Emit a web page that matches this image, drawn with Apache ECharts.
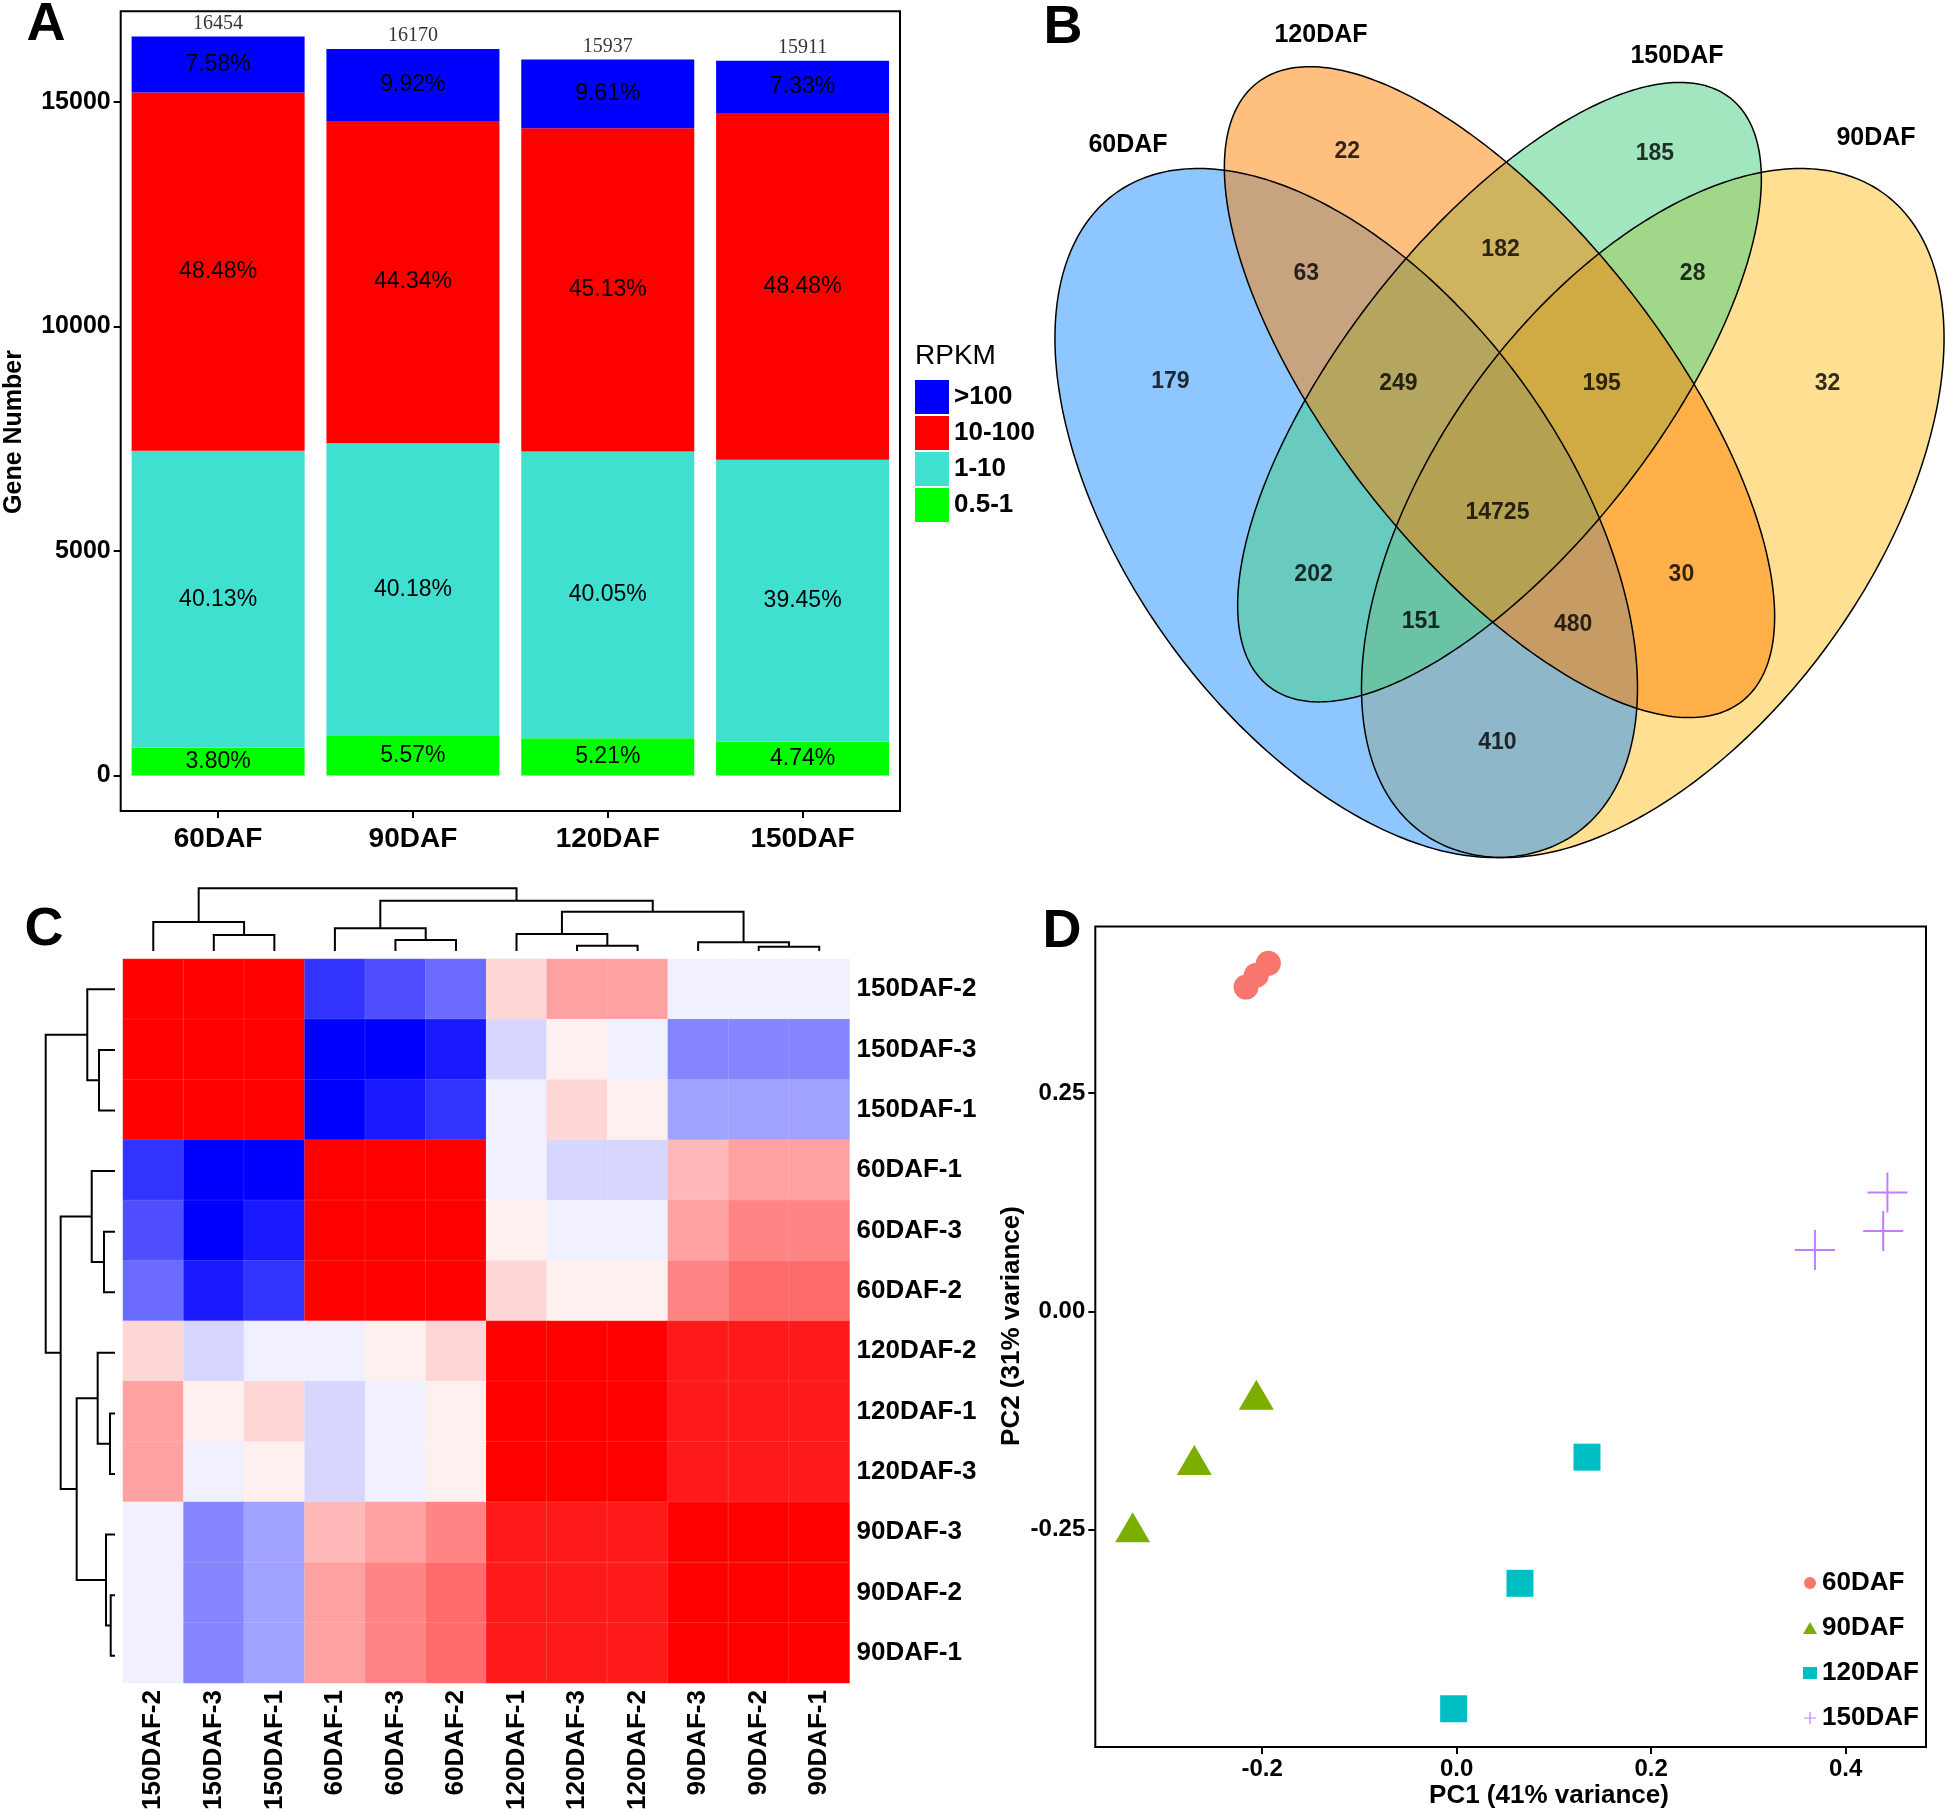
<!DOCTYPE html>
<html><head><meta charset="utf-8">
<script src="https://cdn.jsdelivr.net/npm/echarts@6/dist/echarts.min.js"></script>
<style>html,body{margin:0;padding:0;background:#fff}#c{width:1946px;height:1813px}</style>
</head><body><div id="c"></div>
<script>
// ---------- Panel A data ----------
const stages = ['60DAF', '90DAF', '120DAF', '150DAF'];
const totals = [16454, 16170, 15937, 15911];
const rpkmClasses = ['0.5-1', '1-10', '10-100', '>100'];
const pct_05_1 = [3.80, 5.57, 5.21, 4.74];
const pct_1_10 = [40.13, 40.18, 40.05, 39.45];
const pct_10_100 = [48.48, 44.34, 45.13, 48.48];
const pct_gt100 = [7.58, 9.92, 9.61, 7.33];
const geneTicks = [0, 5000, 10000, 15000];

// ---------- Panel B data ----------
const vennSets = ['60DAF', '120DAF', '150DAF', '90DAF'];
const vennRegions = ['60', '120', '150', '90', '60&120', '120&150', '150&90', '60&150', '120&90', '60&90',
  '60&120&150', '120&150&90', '60&150&90', '60&120&90', '60&120&150&90'];
const vennCounts = [179, 22, 185, 32, 63, 182, 28, 202, 30, 410, 249, 195, 151, 480, 14725];

// ---------- Panel C data ----------
const colLabels = ['150DAF-2', '150DAF-3', '150DAF-1', '60DAF-1', '60DAF-3', '60DAF-2',
  '120DAF-1', '120DAF-3', '120DAF-2', '90DAF-3', '90DAF-2', '90DAF-1'];
const rowLabels = ['150DAF-2', '150DAF-3', '150DAF-1', '60DAF-1', '60DAF-3', '60DAF-2',
  '120DAF-2', '120DAF-1', '120DAF-3', '90DAF-3', '90DAF-2', '90DAF-1'];
const heatRow_150DAF_2 = [1, 1, 1, -0.80, -0.69, -0.58, 0.16, 0.37, 0.37, -0.06, -0.06, -0.06];
const heatRow_150DAF_3 = [1, 1, 1, -1, -1, -0.90, -0.16, 0.06, -0.06, -0.48, -0.48, -0.48];
const heatRow_150DAF_1 = [1, 1, 1, -1, -0.90, -0.80, -0.06, 0.16, 0.06, -0.37, -0.37, -0.37];
const heatRow_60DAF_1 = [-0.80, -1, -1, 1, 1, 1, -0.06, -0.16, -0.16, 0.28, 0.37, 0.37];
const heatRow_60DAF_3 = [-0.69, -1, -0.90, 1, 1, 1, 0.06, -0.06, -0.06, 0.37, 0.48, 0.48];
const heatRow_60DAF_2 = [-0.58, -0.90, -0.80, 1, 1, 1, 0.16, 0.06, 0.06, 0.48, 0.58, 0.58];
const heatRow_120DAF_2 = [0.16, -0.16, -0.06, -0.06, 0.06, 0.16, 1, 1, 1, 0.90, 0.90, 0.90];
const heatRow_120DAF_1 = [0.37, 0.06, 0.16, -0.16, -0.06, 0.06, 1, 1, 1, 0.90, 0.90, 0.90];
const heatRow_120DAF_3 = [0.37, -0.06, 0.06, -0.16, -0.06, 0.06, 1, 1, 1, 0.90, 0.90, 0.90];
const heatRow_90DAF_3 = [-0.06, -0.48, -0.37, 0.28, 0.37, 0.48, 0.90, 0.90, 0.90, 1, 1, 1];
const heatRow_90DAF_2 = [-0.06, -0.48, -0.37, 0.37, 0.48, 0.58, 0.90, 0.90, 0.90, 1, 1, 1];
const heatRow_90DAF_1 = [-0.06, -0.48, -0.37, 0.37, 0.48, 0.58, 0.90, 0.90, 0.90, 1, 1, 1];
// dendrogram merges: [left, right, height]; 'mK' refers to the K-th merge
const colMerges = [
  ['150DAF-3', '150DAF-1', 0.255], ['150DAF-2', 'm0', 0.463],
  ['60DAF-3', '60DAF-2', 0.175], ['60DAF-1', 'm2', 0.362],
  ['120DAF-3', '120DAF-2', 0.085], ['120DAF-1', 'm4', 0.271],
  ['90DAF-2', '90DAF-1', 0.069], ['90DAF-3', 'm6', 0.139],
  ['m5', 'm7', 0.627], ['m3', 'm8', 0.802], ['m1', 'm9', 1.0]];
const rowMerges = [
  ['150DAF-3', '150DAF-1', 0.231], ['150DAF-2', 'm0', 0.400],
  ['60DAF-3', '60DAF-2', 0.159], ['60DAF-1', 'm2', 0.336],
  ['120DAF-1', '120DAF-3', 0.072], ['120DAF-2', 'm4', 0.250],
  ['90DAF-2', '90DAF-1', 0.062], ['90DAF-3', 'm6', 0.130],
  ['m5', 'm7', 0.553], ['m3', 'm8', 0.784], ['m1', 'm9', 1.0]];

// ---------- Panel D data ----------
const pcaGroups = ['60DAF', '90DAF', '120DAF', '150DAF'];
const pc1_60DAF = [-0.2166, -0.2060, -0.1936];
const pc2_60DAF = [0.3715, 0.3851, 0.3987];
const pc1_90DAF = [-0.2060, -0.2698, -0.3332];
const pc2_90DAF = [-0.0954, -0.1703, -0.2474];
const pc1_120DAF = [0.1340, 0.0651, -0.0031];
const pc2_120DAF = [-0.1670, -0.3115, -0.4552];
const pc1_150DAF = [0.3684, 0.4386, 0.4429];
const pc2_150DAF = [0.0703, 0.0921, 0.1363];
const pc1Ticks = [-0.2, 0, 0.2, 0.4];
const pc2Ticks = [-0.25, 0, 0.25];

// ---------- layout / style ----------
const FF = "'Liberation Sans', Arial, Helvetica, sans-serif";
const FS = "'Liberation Serif', 'Times New Roman', serif";
const vennEllipses = {
  '90DAF':  {cx: 0.65, cy: 0.47, a: 0.35,  b: 0.20,  ang: 45,  color: 'rgba(255,193,37,0.5)'},
  '60DAF':  {cx: 0.35, cy: 0.47, a: 0.35,  b: 0.20,  ang: -45, color: 'rgba(30,144,255,0.5)'},
  '150DAF': {cx: 0.50, cy: 0.57, a: 0.333, b: 0.143, ang: 45,  color: 'rgba(67,205,128,0.5)'},
  '120DAF': {cx: 0.50, cy: 0.57, a: 0.35,  b: 0.15,  ang: -45, color: 'rgba(255,127,0,0.5)'}
};
const vennDrawOrder = ['90DAF', '60DAF', '150DAF', '120DAF'];
const vennLabelPos = [[0.178, 0.579], [0.351, 0.769], [0.652, 0.767], [0.821, 0.577],
  [0.311, 0.668], [0.501, 0.688], [0.689, 0.668], [0.318, 0.419], [0.678, 0.419], [0.498, 0.280],
  [0.401, 0.577], [0.600, 0.577], [0.423, 0.380], [0.572, 0.378], [0.498, 0.470]];

function ellipsePoints(e, api) {
  const pts = [];
  const t = e.ang * Math.PI / 180;
  for (let k = 0; k < 360; k++) {
    const th = k * Math.PI / 180;
    const ux = e.a * Math.cos(th), uy = e.b * Math.sin(th);
    pts.push(api.coord([e.cx + ux * Math.cos(t) - uy * Math.sin(t), e.cy + ux * Math.sin(t) + uy * Math.cos(t)]));
  }
  return pts;
}
function dendroSegments(leaves, merges) {
  const pos = {};
  leaves.forEach((n, i) => { pos[n] = {x: i, h: 0}; });
  const segs = [];
  merges.forEach((m, k) => {
    const L = pos[m[0]], R = pos[m[1]];
    segs.push([L.x, L.h, R.x, R.h, m[2]]);
    pos['m' + k] = {x: (L.x + R.x) / 2, h: m[2]};
  });
  return segs;
}

const pctBySeries = [pct_05_1, pct_1_10, pct_10_100, pct_gt100];
const rpkmColors = ['#00FF00', '#40E0D0', '#FF0000', '#0000FF'];
const heatRows = [heatRow_150DAF_2, heatRow_150DAF_3, heatRow_150DAF_1, heatRow_60DAF_1, heatRow_60DAF_3,
  heatRow_60DAF_2, heatRow_120DAF_2, heatRow_120DAF_1, heatRow_120DAF_3, heatRow_90DAF_3, heatRow_90DAF_2, heatRow_90DAF_1];
const heatData = [];
heatRows.forEach((row, r) => row.forEach((v, c) => heatData.push([c, r, v])));

const pcaX = [pc1_60DAF, pc1_90DAF, pc1_120DAF, pc1_150DAF];
const pcaY = [pc2_60DAF, pc2_90DAF, pc2_120DAF, pc2_150DAF];
const pcaColors = ['#F8766D', '#7CAE00', '#00BFC4', '#C77CFF'];
const plusPath = 'path://M19,0H21V19H40V21H21V40H19V21H0V19H19Z';
const pcaSymbols = ['circle', 'triangle', 'rect', plusPath];
const pcaSizes = [25, [35, 30], 27, 40];

const series = [];
// Panel A stacked bars
rpkmClasses.forEach((cls, s) => {
  series.push({
    type: 'bar', name: cls, xAxisIndex: 0, yAxisIndex: 0, stack: 'rpkm', barWidth: 173,
    itemStyle: {color: rpkmColors[s]},
    data: stages.map((st, i) => totals[i] * pctBySeries[s][i] / 100),
    label: {show: true, position: 'inside', color: '#000', fontFamily: FF, fontSize: 23,
      formatter: p => pctBySeries[s][p.dataIndex].toFixed(2) + '%'},
    emphasis: {disabled: true}, silent: true
  });
});
series.push({
  type: 'scatter', xAxisIndex: 0, yAxisIndex: 0, symbolSize: 0, silent: true, z: 5,
  data: totals.slice(),
  label: {show: true, position: 'top', distance: 3, color: '#000', fontFamily: FS, fontSize: 20,
    formatter: p => String(totals[p.dataIndex])}
});
// Panel B Venn
series.push({
  type: 'custom', xAxisIndex: 1, yAxisIndex: 1, silent: true, clip: false, z: 2,
  data: vennDrawOrder.map(n => ({name: n, value: [0.5, 0.5]})),
  renderItem: (params, api) => ({type: 'polygon', shape: {points: ellipsePoints(vennEllipses[vennDrawOrder[params.dataIndex]], api)},
    style: {fill: vennEllipses[vennDrawOrder[params.dataIndex]].color, stroke: null}})
});
series.push({
  type: 'custom', xAxisIndex: 1, yAxisIndex: 1, silent: true, clip: false, z: 3,
  data: vennDrawOrder.map(n => ({name: n, value: [0.5, 0.5]})),
  renderItem: (params, api) => ({type: 'polygon', shape: {points: ellipsePoints(vennEllipses[vennDrawOrder[params.dataIndex]], api)},
    style: {fill: null, stroke: '#000', lineWidth: 1.5}})
});
series.push({
  type: 'scatter', xAxisIndex: 1, yAxisIndex: 1, symbolSize: 1, silent: true, z: 4,
  itemStyle: {color: 'transparent'},
  data: vennCounts.map((c, i) => [vennLabelPos[i][0], vennLabelPos[i][1], c]),
  label: {show: true, position: 'inside', color: '#000', fontFamily: FF, fontSize: 23, fontWeight: 'bold',
    formatter: p => String(p.value[2])}
});
// Panel C heatmap
const heatSeriesIndex = series.length;
series.push({
  type: 'heatmap', xAxisIndex: 2, yAxisIndex: 2, data: heatData, silent: true,
  itemStyle: {borderColor: 'rgba(255,255,255,0.12)', borderWidth: 1}
});
series.push({
  type: 'custom', xAxisIndex: 3, yAxisIndex: 3, silent: true, clip: false,
  data: dendroSegments(colLabels, colMerges),
  renderItem: (params, api) => {
    const xl = api.value(0), hl = api.value(1), xr = api.value(2), hr = api.value(3), h = api.value(4);
    return {type: 'polyline', shape: {points: [api.coord([xl, hl]), api.coord([xl, h]), api.coord([xr, h]), api.coord([xr, hr])]},
      style: {stroke: '#000', lineWidth: 2, fill: null}};
  }
});
series.push({
  type: 'custom', xAxisIndex: 4, yAxisIndex: 4, silent: true, clip: false,
  data: dendroSegments(rowLabels, rowMerges),
  renderItem: (params, api) => {
    const yl = api.value(0), hl = api.value(1), yr = api.value(2), hr = api.value(3), h = api.value(4);
    return {type: 'polyline', shape: {points: [api.coord([hl, yl]), api.coord([h, yl]), api.coord([h, yr]), api.coord([hr, yr])]},
      style: {stroke: '#000', lineWidth: 2, fill: null}};
  }
});
// Panel D PCA
pcaGroups.forEach((g, s) => {
  series.push({
    type: 'scatter', name: g, xAxisIndex: 5, yAxisIndex: 5, symbol: pcaSymbols[s], symbolSize: pcaSizes[s],
    itemStyle: {color: pcaColors[s], opacity: 1}, silent: true,
    data: pcaX[s].map((x, i) => [x, pcaY[s][i]])
  });
});

const tickStyle = {show: true, length: 7, lineStyle: {color: '#000', width: 2}};
const noLine = {show: false, onZero: false};
const hidden = {show: false};
const option = {
  animation: false,
  backgroundColor: '#fff',
  grid: [
    {left: 120.7, top: 11.2, width: 779.3, height: 799.8, show: true, borderColor: '#000', borderWidth: 2},
    {left: 1055, top: 67, width: 889, height: 790.5},
    {left: 123, top: 959, width: 726.5, height: 727},
    {left: 123, top: 888.3, width: 726.5, height: 62.7},
    {left: 45.7, top: 959, width: 69.3, height: 727},
    {left: 1095.3, top: 926.4, width: 830.7, height: 820.6, show: true, borderColor: '#000', borderWidth: 2}
  ],
  xAxis: [
    {gridIndex: 0, type: 'category', data: stages, axisLine: noLine, splitLine: hidden,
      axisTick: Object.assign({alignWithLabel: true}, tickStyle),
      axisLabel: {color: '#000', fontFamily: FF, fontSize: 28, fontWeight: 'bold', margin: 14}},
    {gridIndex: 1, type: 'value', min: 0.065, max: 0.935, show: false},
    {gridIndex: 2, type: 'category', data: colLabels, axisLine: hidden, axisTick: hidden, splitLine: hidden,
      axisLabel: {interval: 0, rotate: 90, margin: 7, color: '#000', fontFamily: FF, fontSize: 26, fontWeight: 'bold'}},
    {gridIndex: 3, type: 'value', min: -0.5, max: 11.5, show: false},
    {gridIndex: 4, type: 'value', min: 0, max: 1, inverse: true, show: false},
    {gridIndex: 5, type: 'value', min: -0.3716, max: 0.4826, axisLine: noLine, splitLine: hidden,
      axisTick: Object.assign({customValues: pc1Ticks}, tickStyle),
      axisLabel: {customValues: pc1Ticks, formatter: v => v.toFixed(1), color: '#000',
        fontFamily: FF, fontSize: 24, fontWeight: 'bold', margin: 10}}
  ],
  yAxis: [
    {gridIndex: 0, type: 'value', min: -788, max: 17013, axisLine: noLine, splitLine: hidden,
      axisTick: Object.assign({customValues: geneTicks}, tickStyle),
      axisLabel: {customValues: geneTicks, formatter: v => String(v), color: '#000', fontFamily: FF, fontSize: 25,
        fontWeight: 'bold', margin: 10}},
    {gridIndex: 1, type: 'value', min: 0.185, max: 0.839, show: false},
    {gridIndex: 2, type: 'category', data: rowLabels, inverse: true, position: 'right', axisLine: hidden, axisTick: hidden,
      splitLine: hidden,
      axisLabel: {interval: 0, margin: 7, color: '#000', fontFamily: FF, fontSize: 26, fontWeight: 'bold'}},
    {gridIndex: 3, type: 'value', min: 0, max: 1, show: false},
    {gridIndex: 4, type: 'value', min: -0.5, max: 11.5, inverse: true, show: false},
    {gridIndex: 5, type: 'value', min: -0.499, max: 0.441, axisLine: noLine, splitLine: hidden,
      axisTick: Object.assign({customValues: pc2Ticks}, tickStyle),
      axisLabel: {customValues: pc2Ticks, formatter: v => v.toFixed(2), color: '#000',
        fontFamily: FF, fontSize: 24, fontWeight: 'bold', margin: 10}}
  ],
  visualMap: {type: 'continuous', show: false, seriesIndex: heatSeriesIndex, dimension: 2, min: -1, max: 1,
    inRange: {color: ['#0000FF', '#FFFFFF', '#FF0000']}},
  legend: [
    {data: ['>100', '10-100', '1-10', '0.5-1'], orient: 'vertical', left: 915, top: 380, padding: 0,
      itemWidth: 34, itemHeight: 34, itemGap: 2, icon: 'rect', selectedMode: false,
      textStyle: {color: '#000', fontFamily: FF, fontSize: 26, fontWeight: 'bold'}},
    {data: [{name: '60DAF', icon: 'circle'}, {name: '90DAF', icon: 'triangle'}, {name: '120DAF', icon: 'rect'},
      {name: '150DAF', icon: 'path://M6.3,0H7.7V6.3H14V7.7H7.7V14H6.3V7.7H0V6.3H6.3Z'}],
      orient: 'vertical', left: 1803, top: 1568, padding: 0, itemWidth: 14, itemHeight: 12, itemGap: 15,
      selectedMode: false,
      textStyle: {color: '#000', fontFamily: FF, fontSize: 26, fontWeight: 'bold', lineHeight: 30}}
  ],
  graphic: [
    {type: 'text', x: 46, y: 25, style: {text: 'A', fontFamily: FF, fontSize: 54, fontWeight: 'bold', fill: '#000', align: 'center', verticalAlign: 'middle'}},
    {type: 'text', x: 1063, y: 28, style: {text: 'B', fontFamily: FF, fontSize: 54, fontWeight: 'bold', fill: '#000', align: 'center', verticalAlign: 'middle'}},
    {type: 'text', x: 44, y: 930, style: {text: 'C', fontFamily: FF, fontSize: 54, fontWeight: 'bold', fill: '#000', align: 'center', verticalAlign: 'middle'}},
    {type: 'text', x: 1062, y: 932, style: {text: 'D', fontFamily: FF, fontSize: 54, fontWeight: 'bold', fill: '#000', align: 'center', verticalAlign: 'middle'}},
    {type: 'text', x: 14, y: 432, rotation: Math.PI / 2, style: {text: 'Gene Number', fontFamily: FF, fontSize: 25, fontWeight: 'bold', fill: '#000', align: 'center', verticalAlign: 'middle'}},
    {type: 'text', x: 915, y: 356, style: {text: 'RPKM', fontFamily: FF, fontSize: 28, fill: '#000', align: 'left', verticalAlign: 'middle'}},
    {type: 'text', x: 1128, y: 145, style: {text: vennSets[0], fontFamily: FF, fontSize: 25, fontWeight: 'bold', fill: '#000', align: 'center', verticalAlign: 'middle'}},
    {type: 'text', x: 1321, y: 35, style: {text: vennSets[1], fontFamily: FF, fontSize: 25, fontWeight: 'bold', fill: '#000', align: 'center', verticalAlign: 'middle'}},
    {type: 'text', x: 1677, y: 56, style: {text: vennSets[2], fontFamily: FF, fontSize: 25, fontWeight: 'bold', fill: '#000', align: 'center', verticalAlign: 'middle'}},
    {type: 'text', x: 1876, y: 138, style: {text: vennSets[3], fontFamily: FF, fontSize: 25, fontWeight: 'bold', fill: '#000', align: 'center', verticalAlign: 'middle'}},
    {type: 'text', x: 1549, y: 1796, style: {text: 'PC1 (41% variance)', fontFamily: FF, fontSize: 26, fontWeight: 'bold', fill: '#000', align: 'center', verticalAlign: 'middle'}},
    {type: 'text', x: 1012, y: 1326, rotation: Math.PI / 2, style: {text: 'PC2 (31% variance)', fontFamily: FF, fontSize: 26, fontWeight: 'bold', fill: '#000', align: 'center', verticalAlign: 'middle'}}
  ],
  series: series
};
const chart = echarts.init(document.getElementById('c'));
chart.setOption(option);
</script>
</body></html>
